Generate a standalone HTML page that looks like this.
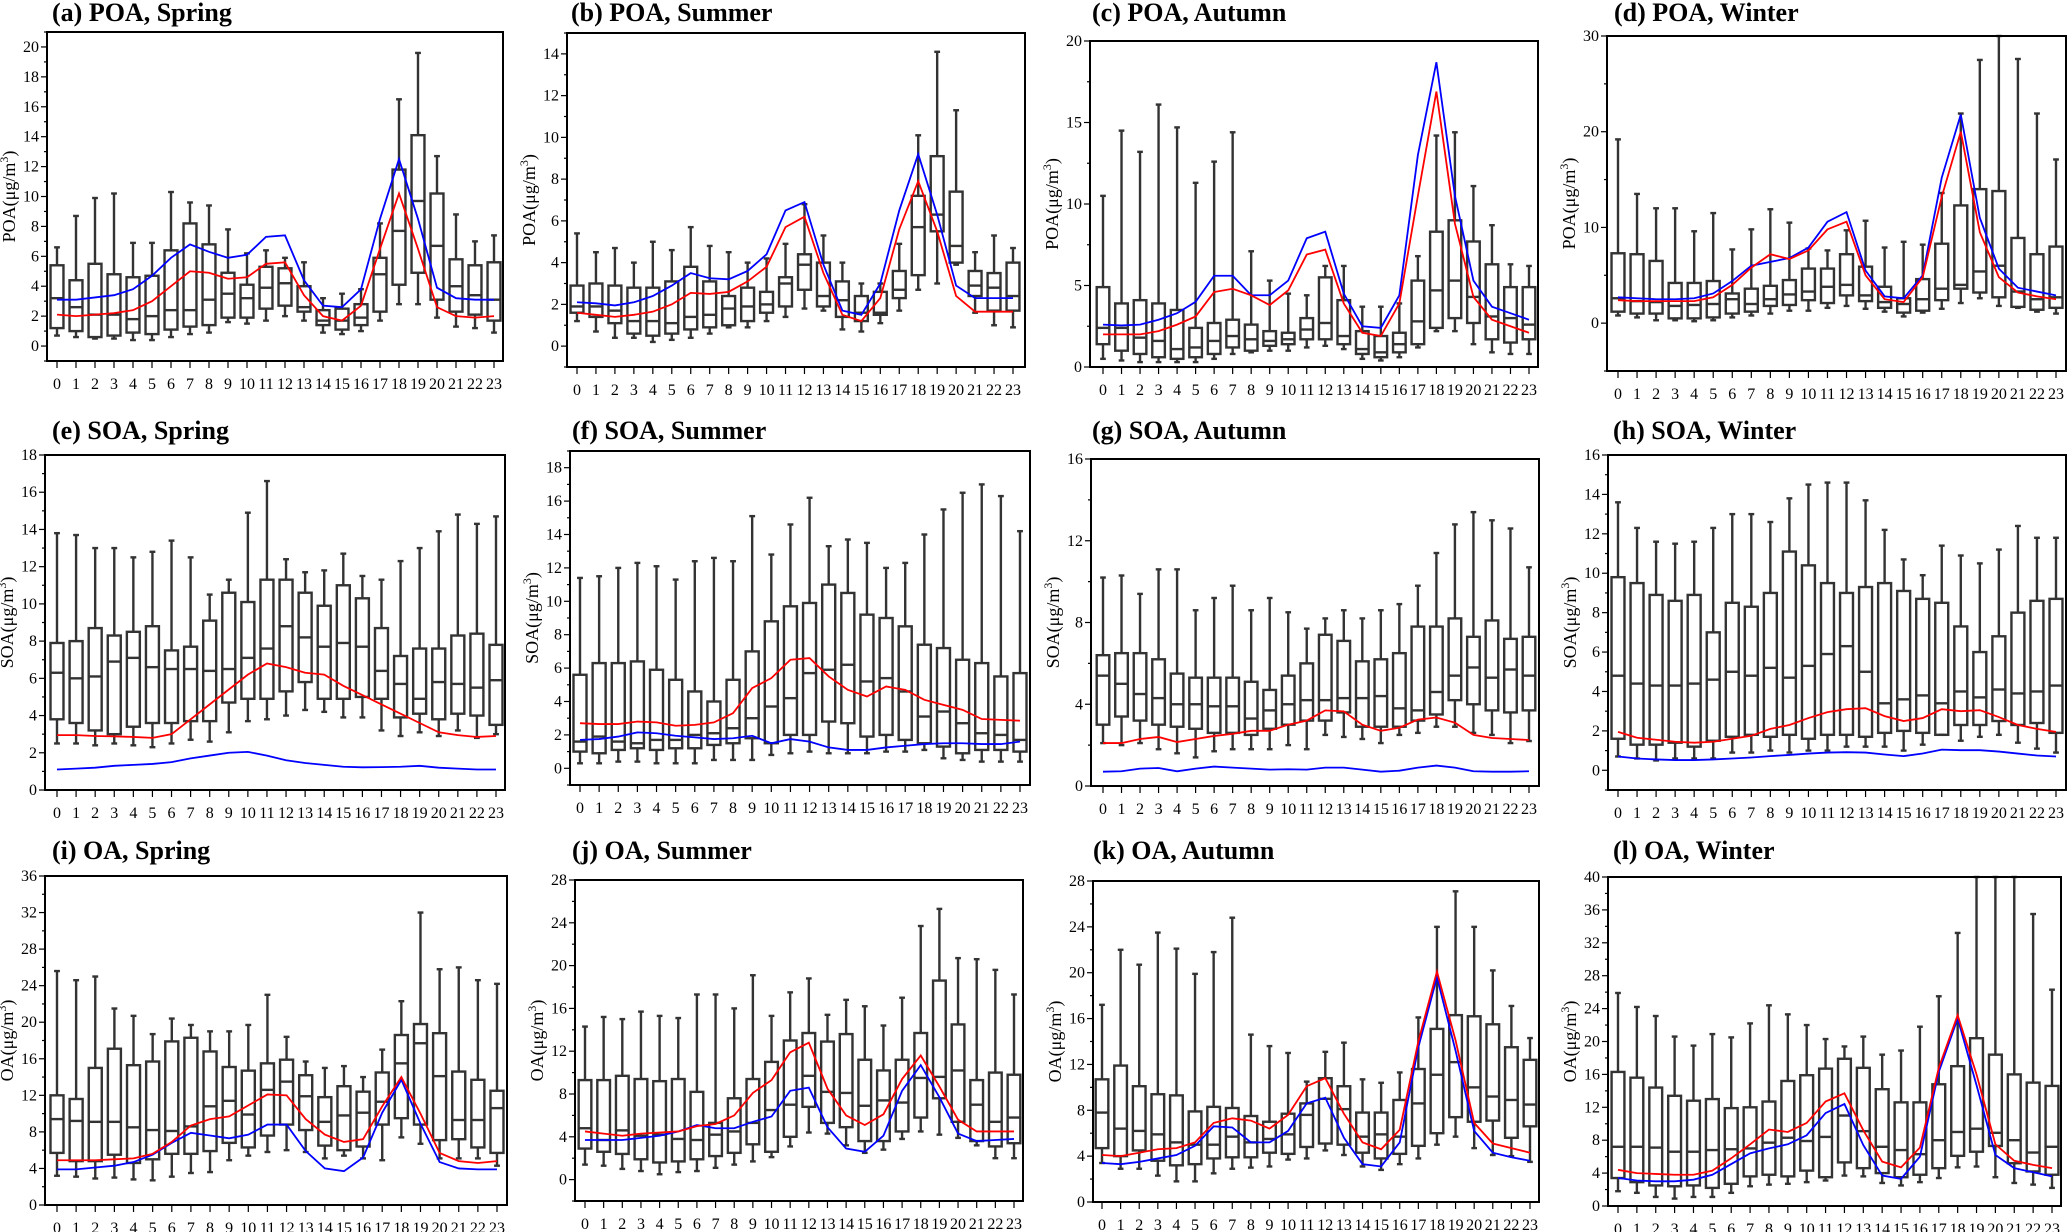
<!DOCTYPE html>
<html><head><meta charset="utf-8"><style>
html,body{margin:0;padding:0;background:#fff;}
svg{display:block;}
text{font-family:"Liberation Serif",serif;fill:#000;}
.ttl{font-weight:bold;font-size:26px;}
.tk{font-size:16px;}
</style></head><body>
<svg id="fig" width="2067" height="1232" viewBox="0 0 2067 1232" xmlns="http://www.w3.org/2000/svg"></svg>
<script>
const hours = [0,1,2,3,4,5,6,7,8,9,10,11,12,13,14,15,16,17,18,19,20,21,22,23];
// box stats per hour: [whiskerLow, q1, median, q3, whiskerHigh]
const boxA = [[0.7,1.2,3.2,5.4,6.6],[0.6,1.0,2.6,4.4,8.7],[0.5,0.6,2.1,5.5,9.9],[0.5,0.7,2.1,4.8,10.2],[0.4,0.9,1.8,4.6,6.9],[0.4,0.8,2.0,4.7,6.9],[0.6,1.1,2.4,6.4,10.3],[0.8,1.3,2.4,8.2,9.6],[0.9,1.4,3.1,6.8,9.4],[1.6,1.9,3.5,4.9,7.8],[1.5,1.9,3.2,4.1,6.2],[1.7,2.5,3.9,5.3,6.4],[2.0,2.7,4.2,5.2,5.9],[1.7,2.3,2.6,4.0,5.6],[0.9,1.4,1.7,2.4,3.2],[0.8,1.1,1.7,2.5,3.5],[1.0,1.4,1.9,2.8,3.8],[1.7,2.3,4.8,5.9,8.2],[2.8,4.1,7.7,11.8,16.5],[2.8,4.9,9.7,14.1,19.6],[1.9,3.1,6.7,10.2,12.7],[1.3,2.3,4.0,5.8,8.8],[1.2,2.1,3.4,5.4,7.0],[0.9,1.7,3.1,5.6,7.4]];
const blueA = [3.1,3.1,3.25,3.4,3.8,4.7,5.9,6.8,6.3,5.9,6.1,7.3,7.4,4.4,2.7,2.6,3.8,8.5,12.5,8.5,3.9,3.2,3.1,3.1];
const redA = [2.1,2.0,2.1,2.2,2.4,3.0,4.0,5.0,4.9,4.5,4.6,5.5,5.6,3.4,2.0,1.7,2.7,6.5,10.2,6.5,2.6,2.0,1.9,2.0];

const boxB = [[1.2,1.6,1.9,2.9,5.4],[0.7,1.4,1.9,3.0,4.5],[0.4,1.1,1.7,2.9,4.7],[0.4,0.6,1.2,2.8,4.0],[0.2,0.5,1.2,2.8,5.0],[0.3,0.6,1.1,3.1,4.6],[0.4,0.8,1.4,3.8,5.7],[0.6,0.9,1.5,3.1,4.8],[0.9,1.0,1.8,2.4,4.5],[0.9,1.2,1.9,2.8,4.0],[1.2,1.6,2.0,2.6,4.2],[1.4,1.9,3.0,3.3,4.9],[1.8,2.7,3.9,4.4,6.8],[1.7,1.9,2.4,4.0,5.3],[0.8,1.4,2.2,3.1,4.0],[0.7,1.2,1.6,2.4,3.0],[1.1,1.5,1.6,2.6,3.0],[1.7,2.3,2.7,3.6,4.9],[2.7,3.4,5.7,7.2,10.1],[3.0,5.5,6.3,9.1,14.1],[3.9,4.0,4.8,7.4,11.3],[1.6,2.4,2.9,3.6,4.5],[1.0,1.7,2.8,3.5,5.3],[0.9,1.7,2.4,4.0,4.7]];
const blueB = [2.1,2.05,1.95,2.1,2.4,2.9,3.5,3.25,3.2,3.6,4.4,6.5,6.9,3.9,1.7,1.5,3.0,6.5,9.2,6.3,2.9,2.3,2.3,2.3];
const redB = [1.6,1.5,1.4,1.5,1.65,2.0,2.55,2.5,2.6,3.1,3.8,5.7,6.2,3.5,1.5,1.2,2.3,5.6,7.9,5.5,2.4,1.65,1.65,1.65];

const boxC = [[0.5,1.4,2.4,4.9,10.5],[0.4,1.0,2.4,3.9,14.5],[0.3,0.8,1.8,4.1,13.2],[0.3,0.6,1.6,3.9,16.1],[0.3,0.5,1.1,3.5,14.7],[0.3,0.6,1.2,2.4,11.3],[0.5,0.8,1.6,2.7,12.6],[0.8,1.2,1.9,2.9,14.4],[0.9,1.0,1.7,2.6,7.1],[1.0,1.3,1.6,2.2,5.3],[1.0,1.4,1.7,2.1,4.5],[1.2,1.7,2.3,3.0,4.4],[1.3,1.7,2.7,5.5,6.2],[1.1,1.4,1.9,4.1,6.2],[0.5,0.8,1.1,2.2,3.7],[0.4,0.6,0.9,1.9,3.7],[0.6,0.9,1.4,2.1,3.9],[1.2,1.4,2.8,5.3,6.8],[2.2,2.4,4.7,8.3,14.2],[2.2,3.0,5.3,9.0,14.4],[1.4,2.7,4.3,7.7,11.1],[0.9,1.7,3.1,6.3,8.7],[0.8,1.5,3.0,4.9,6.3],[0.8,1.7,2.6,4.9,6.2]];
const blueC = [2.6,2.55,2.6,2.9,3.3,4.0,5.6,5.6,4.4,4.4,5.3,7.9,8.3,4.5,2.5,2.4,4.4,13.0,18.7,10.5,5.3,3.7,3.3,2.9];
const redC = [2.0,2.0,2.0,2.2,2.6,3.1,4.6,4.8,4.4,3.8,4.7,6.9,7.2,3.9,2.1,1.9,3.9,10.5,16.9,8.8,4.3,2.9,2.5,2.1];

const boxD = [[0.8,1.2,2.6,7.3,19.2],[0.6,1.0,2.3,7.2,13.5],[0.3,1.0,2.2,6.5,12.0],[0.3,0.5,1.8,4.2,12.0],[0.2,0.5,1.9,4.2,9.6],[0.3,0.6,2.0,4.4,11.5],[0.6,1.0,2.5,3.1,7.7],[0.8,1.2,2.0,3.6,9.8],[1.0,1.8,2.5,3.9,11.9],[1.3,1.9,3.0,4.5,10.5],[1.3,2.4,3.3,5.7,7.8],[1.6,2.1,3.8,5.7,7.6],[1.8,2.9,4.0,7.2,9.7],[1.5,2.3,2.9,5.9,10.7],[1.2,1.6,2.2,3.8,7.9],[0.7,1.1,2.0,2.6,8.5],[1.1,1.3,2.5,4.6,8.2],[1.5,2.4,3.6,8.3,13.6],[2.1,3.6,4.0,12.3,21.9],[2.6,3.2,5.4,14.0,27.5],[1.8,2.7,6.0,13.8,30],[1.6,1.7,3.3,8.9,27.6],[1.2,1.4,2.5,7.2,21.9],[1.0,1.6,2.7,8.0,17.1]];
const blueD = [2.7,2.6,2.5,2.5,2.6,3.1,4.4,6.0,6.4,6.8,7.9,10.6,11.6,5.5,2.8,2.6,5.0,15.2,21.8,11.0,5.7,3.7,3.3,2.9];
const redD = [2.4,2.3,2.3,2.3,2.3,2.7,4.0,5.8,7.2,6.7,7.6,9.8,10.6,5.0,2.5,2.2,4.8,13.2,20.0,9.5,4.8,3.2,2.8,2.5];

const boxE = [[2.5,3.8,6.3,7.9,13.8],[2.5,3.6,6.0,8.0,13.7],[2.4,3.2,6.1,8.7,13.0],[2.5,3.0,6.9,8.3,13.0],[2.4,3.4,7.1,8.5,12.5],[2.3,3.6,6.6,8.8,12.8],[2.5,3.6,6.5,7.5,13.4],[2.7,3.7,6.5,7.7,12.5],[2.6,3.7,6.4,9.1,10.5],[3.1,4.7,6.5,10.6,11.3],[3.7,4.9,7.1,10.1,14.9],[3.8,4.9,7.6,11.3,16.6],[4.0,5.3,8.8,11.3,12.4],[4.3,5.8,8.2,10.6,11.7],[4.2,4.9,7.7,9.9,11.8],[3.9,4.9,7.9,11.0,12.7],[3.9,5.0,7.7,10.3,11.5],[3.2,4.9,6.4,8.7,11.3],[2.9,3.9,5.7,7.2,12.3],[3.1,4.1,4.9,7.6,13.0],[2.9,3.8,5.8,7.6,13.9],[3.2,4.1,5.7,8.3,14.8],[2.8,4.0,5.5,8.4,14.3],[3.0,3.5,5.9,7.8,14.7]];
const redE = [2.95,2.95,2.9,2.88,2.85,2.8,3.0,3.8,4.6,5.4,6.2,6.8,6.6,6.3,6.2,5.6,5.1,4.6,4.1,3.6,3.1,2.95,2.85,2.9];
const blueE = [1.1,1.15,1.2,1.3,1.35,1.4,1.5,1.7,1.85,2.0,2.05,1.85,1.6,1.45,1.35,1.25,1.22,1.23,1.25,1.3,1.2,1.15,1.1,1.1];

const boxF = [[0.3,1.0,1.6,5.6,11.4],[0.3,0.9,1.9,6.3,11.5],[0.4,1.1,1.6,6.3,12.0],[0.4,1.2,1.5,6.4,12.3],[0.3,1.1,1.7,5.9,12.1],[0.3,1.2,1.7,5.3,11.3],[0.3,1.2,2.0,4.6,12.4],[0.5,1.4,2.1,4.0,12.6],[0.5,1.5,2.4,5.3,12.4],[0.5,1.8,3.0,7.0,15.1],[0.8,1.5,3.7,8.8,12.8],[0.9,2.0,4.2,9.7,14.6],[1.0,2.0,5.7,9.9,16.2],[0.9,2.8,5.9,11.0,13.3],[0.9,2.7,6.2,10.5,13.7],[0.9,1.9,5.2,9.2,13.5],[1.0,2.0,5.4,9.0,12.0],[1.0,1.7,4.6,8.5,12.3],[1.1,1.5,3.1,7.4,14.0],[0.6,1.3,3.4,7.2,15.5],[0.5,0.9,2.7,6.5,16.5],[0.4,1.1,2.1,6.3,17.0],[0.4,1.1,2.0,5.5,16.3],[0.4,1.0,1.7,5.7,14.2]];
const redF = [2.7,2.65,2.65,2.8,2.75,2.55,2.6,2.75,3.3,4.8,5.4,6.5,6.6,5.5,4.7,4.3,4.9,4.7,4.1,3.8,3.5,2.95,2.9,2.85];
const blueF = [1.7,1.75,1.9,2.15,2.1,1.95,1.85,1.75,1.8,1.95,1.5,1.75,1.6,1.25,1.1,1.1,1.25,1.35,1.45,1.5,1.5,1.45,1.45,1.6];

const boxG = [[2.1,3.0,5.4,6.4,10.2],[2.0,3.4,5.0,6.5,10.3],[2.1,3.2,4.5,6.5,9.4],[1.8,3.0,4.3,6.2,10.6],[1.6,2.9,4.0,5.5,10.6],[1.4,2.8,4.0,5.3,8.6],[1.7,2.6,3.9,5.3,9.2],[1.8,2.6,3.9,5.3,9.8],[1.8,2.5,3.3,5.1,8.6],[1.8,2.8,3.7,4.7,9.2],[2.0,3.0,4.0,5.4,8.5],[1.8,3.2,4.2,6.0,7.7],[2.5,3.2,4.2,7.4,8.2],[2.4,3.6,4.3,7.1,8.6],[2.3,2.9,4.3,6.1,8.2],[2.1,2.9,4.4,6.2,8.6],[2.5,2.9,3.8,6.5,8.9],[2.6,3.2,3.7,7.8,9.8],[2.9,3.5,4.6,7.8,11.4],[2.9,4.2,5.4,8.2,12.8],[2.6,4.0,5.8,7.3,13.4],[2.5,3.7,5.3,8.1,13.0],[2.1,3.6,5.7,7.2,12.6],[2.2,3.7,5.4,7.3,10.7]];
const redG = [2.1,2.1,2.3,2.4,2.15,2.3,2.45,2.55,2.7,2.7,3.0,3.2,3.7,3.65,3.0,2.7,2.85,3.25,3.35,3.1,2.5,2.35,2.3,2.25];
const blueG = [0.7,0.72,0.85,0.88,0.72,0.85,0.95,0.9,0.85,0.8,0.82,0.8,0.9,0.9,0.8,0.7,0.75,0.9,1.0,0.9,0.72,0.7,0.7,0.72];

const boxH = [[0.7,1.6,4.8,9.8,13.6],[0.6,1.3,4.4,9.5,12.3],[0.5,1.3,4.3,8.9,11.6],[0.6,1.4,4.3,8.6,11.5],[0.6,1.2,4.4,8.9,11.6],[0.6,1.5,4.6,7.0,12.3],[0.9,1.7,5.0,8.5,13.0],[0.9,1.8,4.8,8.3,13.0],[1.0,1.7,5.2,9.0,12.6],[0.9,1.8,4.7,11.1,13.8],[1.0,1.6,5.3,10.4,14.5],[1.0,1.8,5.9,9.5,14.6],[1.2,1.8,6.3,9.0,14.6],[1.2,1.7,5.0,9.3,13.7],[1.2,1.9,3.4,9.5,12.2],[1.0,2.0,3.6,9.1,10.7],[1.3,1.9,3.8,8.7,9.9],[1.8,1.8,3.4,8.5,11.4],[1.5,2.3,4.0,7.3,10.9],[1.7,2.3,3.7,6.0,10.5],[1.8,2.5,4.1,6.8,11.2],[1.4,2.3,3.9,8.0,12.4],[1.1,2.4,4.0,8.6,11.8],[0.9,1.9,4.3,8.7,11.8]];
const redH = [1.95,1.65,1.55,1.45,1.4,1.45,1.6,1.75,2.1,2.3,2.65,2.95,3.1,3.15,2.75,2.5,2.65,3.1,3.0,3.05,2.7,2.3,2.1,1.95];
const blueH = [0.7,0.6,0.55,0.52,0.52,0.55,0.6,0.65,0.72,0.78,0.85,0.9,0.92,0.9,0.8,0.72,0.85,1.05,1.02,1.02,0.95,0.85,0.75,0.7];

const boxI = [[3.2,5.7,9.4,12.0,25.6],[3.1,4.8,9.2,11.6,24.6],[2.9,4.8,9.1,15.0,25.0],[3.0,5.5,9.1,17.1,21.5],[2.8,4.6,8.5,15.3,20.7],[2.7,5.0,8.2,15.7,18.7],[3.1,5.6,8.1,17.9,20.4],[3.5,5.6,8.6,18.3,19.7],[3.6,5.9,10.8,16.8,19.0],[4.9,6.8,11.4,15.1,19.0],[5.4,6.3,9.9,14.7,19.7],[5.8,7.6,12.6,15.5,23.0],[6.0,8.8,13.5,15.9,18.4],[5.8,8.2,11.9,14.2,15.7],[5.1,6.5,9.1,11.8,15.0],[5.4,6.0,9.8,13.0,15.2],[5.1,6.4,10.1,12.4,14.0],[4.9,8.8,11.3,14.5,17.0],[7.4,9.5,15.5,18.6,22.3],[6.7,8.8,17.7,19.8,32.0],[5.1,7.1,14.1,18.8,25.8],[5.1,7.2,9.3,14.6,26.0],[5.1,6.3,9.3,13.7,24.6],[4.3,5.7,10.6,12.5,24.2]];
const redI = [4.9,4.9,4.9,5.0,5.1,5.6,6.9,8.7,9.4,9.7,10.9,12.1,12.0,9.4,7.7,6.9,7.2,10.8,14.0,10.0,5.7,4.8,4.6,4.8];
const blueI = [3.9,3.9,4.1,4.3,4.7,5.5,6.8,7.9,7.6,7.3,7.7,8.8,8.8,5.9,4.0,3.7,5.2,10.1,13.7,8.9,4.7,4.0,3.9,3.9];

const boxJ = [[1.4,2.9,4.8,9.3,14.3],[1.3,2.6,3.7,9.3,15.2],[1.0,2.4,4.6,9.7,15.0],[0.8,1.9,4.1,9.4,15.7],[0.5,1.6,4.2,9.2,15.3],[0.7,1.7,3.8,9.4,15.1],[0.8,1.9,3.7,8.2,17.3],[1.1,2.2,4.2,5.3,17.3],[1.4,2.5,4.5,7.6,16.0],[1.7,3.3,5.3,9.4,19.1],[2.1,2.6,6.5,11.0,15.3],[3.1,4.0,7.0,13.0,17.5],[4.4,6.8,9.7,13.7,18.8],[4.3,5.3,8.2,12.9,15.4],[3.2,4.9,8.1,13.6,16.8],[2.5,3.6,6.9,11.2,16.2],[2.8,3.6,7.4,10.2,14.4],[3.8,4.5,7.2,11.2,17.0],[4.5,5.8,9.5,13.7,23.7],[4.2,7.6,9.6,18.6,25.3],[3.9,5.4,10.2,14.5,20.7],[3.2,3.6,7.0,9.3,20.6],[2.0,3.1,5.4,10.0,19.6],[2.0,3.4,5.8,9.8,17.3]];
const redJ = [4.5,4.3,4.1,4.3,4.4,4.5,5.0,5.2,6.0,8.1,9.3,11.9,12.8,8.5,6.0,5.1,6.1,9.4,11.6,8.7,5.6,4.5,4.5,4.5];
const blueJ = [3.7,3.7,3.7,3.9,4.1,4.5,5.1,4.8,4.8,5.4,5.9,8.3,8.6,4.9,2.9,2.6,4.1,8.3,10.7,7.7,4.3,3.6,3.7,3.8];

const boxK = [[3.4,4.7,7.8,10.7,17.2],[2.9,4.0,6.4,11.9,22.0],[2.9,4.5,6.2,10.1,20.7],[2.3,3.6,5.9,9.4,23.5],[1.8,3.2,5.2,9.3,22.1],[1.8,3.3,5.0,7.9,19.9],[2.5,3.8,5.0,8.3,21.8],[2.9,3.9,5.7,8.2,24.8],[3.0,3.9,5.2,7.5,14.6],[3.1,4.3,5.5,7.0,13.6],[3.7,4.2,5.9,7.7,13.0],[3.8,4.8,7.6,8.6,10.5],[4.5,5.1,9.0,10.8,13.1],[4.1,5.0,8.1,10.1,13.9],[3.1,4.3,5.7,7.8,10.7],[2.8,3.8,5.9,7.8,10.4],[3.3,4.2,5.7,8.9,11.3],[3.8,4.9,8.6,11.6,16.1],[5.0,6.0,11.1,15.1,24.0],[5.7,7.4,12.2,16.3,27.1],[4.7,7.0,10.0,16.2,24.0],[4.1,7.1,9.2,15.5,20.2],[4.0,5.6,8.9,13.5,17.1],[3.5,6.6,8.5,12.4,14.3]];
const redK = [4.1,4.0,4.3,4.6,4.7,5.2,6.9,7.3,7.1,6.4,7.6,10.1,10.8,7.7,5.2,4.6,6.3,14.0,20.1,14.1,6.9,5.1,4.7,4.3];
const blueK = [3.4,3.3,3.5,3.8,4.1,4.9,6.6,6.5,5.2,5.2,6.2,8.6,9.1,5.6,3.3,3.1,5.2,13.5,19.6,13.2,6.2,4.3,3.9,3.6];

const boxL = [[1.8,3.4,7.2,16.3,25.9],[1.6,2.9,7.2,15.6,24.2],[1.1,2.5,7.1,14.4,23.1],[0.9,2.4,6.6,13.4,20.6],[1.1,2.5,6.6,12.8,19.5],[1.1,2.2,6.8,13.0,20.9],[1.6,2.7,6.9,11.9,20.5],[2.4,3.6,7.0,12.0,22.2],[2.6,3.8,7.7,12.7,24.4],[2.7,3.6,8.3,15.2,23.3],[2.9,4.3,7.9,15.9,22.0],[3.1,3.5,8.4,16.7,20.3],[3.7,5.3,11.0,17.9,19.4],[3.6,4.6,9.1,16.8,20.6],[2.8,4.0,7.2,14.2,18.4],[2.5,3.5,6.8,12.6,18.9],[2.9,3.8,6.3,12.6,21.8],[3.4,4.6,8.0,14.8,25.5],[4.7,6.1,9.0,17.0,33.2],[4.8,6.6,9.4,20.4,40],[3.5,7.3,8.9,18.4,40],[2.8,5.2,8.0,16.0,40],[2.6,4.2,6.5,15.0,35.5],[2.2,3.8,7.2,14.6,26.3]];
const redL = [4.4,4.0,3.9,3.8,3.8,4.3,5.8,7.5,9.3,9.0,10.1,12.7,13.7,9.2,5.4,4.7,7.1,16.8,23.2,16.0,7.5,5.5,5.0,4.6];
const blueL = [3.4,3.1,3.0,3.0,3.2,3.8,5.1,6.4,7.0,7.5,8.6,11.3,12.4,7.4,3.7,3.3,6.0,16.3,22.8,14.7,6.2,4.6,4.1,3.6];

const titles = ["(a) POA, Spring","(b) POA, Summer","(c) POA, Autumn","(d) POA, Winter","(e) SOA, Spring","(f) SOA, Summer","(g) SOA, Autumn","(h) SOA, Winter","(i) OA, Spring","(j) OA, Summer","(k) OA, Autumn","(l) OA, Winter"];
const species = ["POA","POA","POA","POA","SOA","SOA","SOA","SOA","OA","OA","OA","OA"];
const yDomains = [[-1,21],[-1,15],[0,20],[-5,30],[0,18],[-1,19],[0,16],[-1,16],[0,36],[-2,28],[0,28],[0,40]];
const yMajor = [2,2,5,10,2,2,4,2,4,4,4,4];
const boxes = [boxA,boxB,boxC,boxD,boxE,boxF,boxG,boxH,boxI,boxJ,boxK,boxL];
const reds = [redA,redB,redC,redD,redE,redF,redG,redH,redI,redJ,redK,redL];
const blues = [blueA,blueB,blueC,blueD,blueE,blueF,blueG,blueH,blueI,blueJ,blueK,blueL];
</script>
<script>
// layout (pixels): [left,right,top,bottom,x of hour0,x of hour23,titleX,titleBaseline]
const layout = [
 [47,503,32,361,57,494,52,21],[567,1025,33,367,577,1013,571,21],[1090,1538,41,367,1103,1529,1092,21],[1607,2066,36,371,1618,2056,1614,21],
 [45,505,455,790,57,496,52,439],[570,1030,451,785,580,1020,572,439],[1091,1539,459,786,1103,1529,1092,439],[1608,2066,455,790,1618,2056,1613,439],
 [45,507,876,1205,57,497,52,859],[575,1023,880,1201,585,1014,572,859],[1093,1539,881,1202,1102,1530,1093,859],[1608,2061,877,1206,1618,2052,1613,859]];
const NS="http://www.w3.org/2000/svg";
const fig=document.getElementById('fig');
function mk(tag,attrs,parent){const e=document.createElementNS(NS,tag);for(const k in attrs)e.setAttribute(k,attrs[k]);parent.appendChild(e);return e;}
const letters="abcdefghijkl";
for(let p=0;p<12;p++){
  const [L,R,T,B,x0,x23,tx,ty]=layout[p];
  const [ymin,ymax]=yDomains[p];
  const xs=h=>x0+(x23-x0)*h/23;
  const ys=v=>B-(B-T)*(Math.max(ymin,Math.min(ymax,v))-ymin)/(ymax-ymin);
  const g=mk('g',{},fig);
  
  
  const t=mk('text',{x:tx,y:ty,class:'ttl'},g);t.textContent=titles[p];
  
  
  const cy=(T+B)/2, lx=L-32;
  const yl=mk('text',{x:lx,y:cy,transform:`rotate(-90 ${lx} ${cy})`,'text-anchor':'middle','font-size':'18'},g);
  
  
  yl.appendChild(document.createTextNode(species[p]+'(\u03bcg/m'));
  const sup=mk('tspan',{'baseline-shift':'super','font-size':'12'},yl);sup.textContent='3';
  const cl=mk('tspan',{},yl);cl.textContent=')';
  const step=yMajor[p];
  const minor=step/2;
  for(let v=Math.ceil(ymin/minor)*minor;v<=ymax+1e-9;v+=minor){
    const y=ys(v);const maj=Math.abs(v/step-Math.round(v/step))<1e-6;
    mk('line',{x1:L-(maj?6:3),x2:L,y1:y,y2:y,stroke:'#000','stroke-width':1.2},g);
    if(maj){const tt=mk('text',{x:L-8,y:y+5,'text-anchor':'end',class:'tk'},g);tt.textContent=String(Math.round(v));
      
      }
  }
  hours.forEach(h=>{const x=xs(h);
    mk('line',{x1:x,x2:x,y1:B,y2:B+7,stroke:'#000','stroke-width':1.2},g);
    const tt=mk('text',{x:x,y:B+28,'text-anchor':'middle',class:'tk'},g);tt.textContent=String(h);
    
    
  });
  const bw=(x23-x0)/23*0.68;
  const cw=bw*0.45;
  boxes[p].forEach((d,h)=>{
    const x=xs(h);const bg=mk('g',{stroke:'#333','stroke-width':2.4,fill:'none'},g);
    
    
    mk('line',{x1:x,x2:x,y1:ys(d[0]),y2:ys(d[1])},bg);
    mk('line',{x1:x,x2:x,y1:ys(d[3]),y2:ys(d[4])},bg);
    mk('line',{x1:x-cw/2,x2:x+cw/2,y1:ys(d[0]),y2:ys(d[0])},bg);
    mk('line',{x1:x-cw/2,x2:x+cw/2,y1:ys(d[4]),y2:ys(d[4])},bg);
    mk('rect',{x:x-bw/2,y:ys(d[3]),width:bw,height:Math.max(0.5,ys(d[1])-ys(d[3]))},bg);
    mk('line',{x1:x-bw/2,x2:x+bw/2,y1:ys(d[2]),y2:ys(d[2])},bg);
  });
  const pb=mk('polyline',{points:blues[p].map((v,h)=>xs(h)+','+ys(v)).join(' '),fill:'none',stroke:'#0000ff','stroke-width':1.8},g);
  
  
  const pr=mk('polyline',{points:reds[p].map((v,h)=>xs(h)+','+ys(v)).join(' '),fill:'none',stroke:'#ff0000','stroke-width':1.8},g);
  
  
  const fr=mk('rect',{x:L,y:T,width:R-L,height:B-T,fill:'none',stroke:'#000','stroke-width':2},g);
  
  
}
</script>
</body></html>
